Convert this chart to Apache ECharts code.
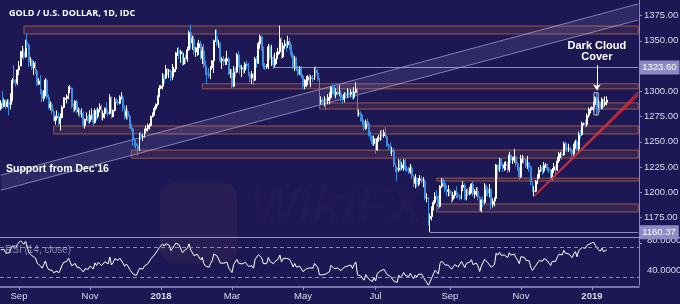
<!DOCTYPE html>
<html><head><meta charset="utf-8">
<script src="https://cdn.jsdelivr.net/npm/echarts@6/dist/echarts.min.js"></script>
<style>html,body{margin:0;padding:0;background:#1d1854;}#c{width:680px;height:304px;}</style>
</head><body><div id="c"></div>
<script>
// Daily candles, each row: [open, close, low, high]
const aug2017 = [[1283,1288,1281,1291],[1288,1285,1283,1300],[1285,1291,1284,1293],[1291,1285,1282,1292],[1285,1289,1284,1292],[1289,1287,1276,1292],[1287,1291,1282,1298],[1291,1311,1290,1313],[1311,1309,1307,1326],[1309,1308,1305,1312],[1308,1321,1306,1322]];
const sep2017 = [[1321,1325,1316,1330],[1325,1339,1325,1340],[1339,1339,1333,1345],[1339,1334,1331,1342],[1334,1349,1333,1351],[1349,1346,1343,1357],[1346,1329,1324,1347],[1329,1331,1325,1334],[1331,1323,1321,1332],[1323,1328,1316,1330],[1328,1320,1317,1330],[1320,1307,1305,1322],[1307,1310,1306,1313],[1310,1300,1297,1316],[1300,1293,1289,1302],[1293,1297,1290,1301],[1297,1311,1295,1313],[1311,1294,1292,1312],[1294,1284,1282,1297],[1284,1287,1281,1290],[1287,1280,1277,1289]];
const oct2017 = [[1280,1271,1270,1282],[1271,1274,1267,1276],[1274,1275,1271,1281],[1275,1268,1266,1279],[1268,1274,1261,1278],[1274,1284,1273,1286],[1284,1292,1283,1294],[1292,1293,1286,1294],[1293,1295,1288,1297],[1295,1303,1292,1305],[1303,1303,1298,1306],[1303,1285,1283,1304],[1285,1282,1279,1288],[1282,1290,1280,1291],[1290,1280,1278,1292],[1280,1281,1276,1284],[1281,1277,1274,1283],[1277,1278,1274,1283],[1278,1266,1264,1280],[1266,1272,1263,1273],[1272,1275,1271,1279],[1275,1270,1268,1277]];
const nov2017 = [[1270,1276,1268,1281],[1276,1277,1272,1283],[1277,1269,1265,1281],[1269,1281,1268,1283],[1281,1275,1271,1283],[1275,1282,1273,1284],[1282,1285,1279,1288],[1285,1274,1272,1287],[1274,1278,1271,1281],[1278,1283,1273,1284],[1283,1279,1277,1289],[1279,1278,1275,1282],[1278,1294,1277,1297],[1294,1275,1273,1295],[1275,1281,1274,1282],[1281,1292,1280,1294],[1292,1290,1288,1293],[1290,1288,1286,1292],[1288,1294,1287,1296],[1294,1294,1292,1299],[1294,1283,1280,1296],[1283,1275,1272,1286]];
const dec2017 = [[1275,1280,1272,1286],[1280,1275,1272,1282],[1275,1266,1263,1277],[1266,1263,1260,1268],[1263,1252,1246,1264],[1252,1248,1245,1254],[1248,1246,1243,1250],[1246,1242,1236,1248],[1242,1257,1241,1259],[1257,1255,1252,1260],[1255,1255,1251,1258],[1255,1261,1254,1263],[1261,1263,1258,1266],[1263,1265,1260,1268],[1265,1266,1262,1268],[1266,1275,1265,1276],[1275,1278,1274,1279],[1278,1283,1276,1285],[1283,1287,1281,1288],[1287,1295,1285,1296],[1295,1303,1294,1306]];
const jan2018 = [[1303,1305,1302,1306],[1305,1316,1302,1318],[1316,1313,1308,1317],[1313,1322,1312,1326],[1322,1320,1316,1323],[1320,1320,1313,1322],[1320,1313,1310,1322],[1313,1319,1311,1327],[1319,1322,1314,1324],[1322,1338,1319,1339],[1338,1340,1335,1343],[1340,1337,1332,1344],[1337,1339,1328,1341],[1339,1327,1325,1340],[1327,1333,1326,1338],[1333,1332,1327,1336],[1332,1341,1329,1344],[1341,1358,1340,1360],[1358,1348,1342,1366],[1348,1352,1341,1355],[1352,1339,1336,1355],[1339,1340,1334,1344],[1340,1343,1335,1348]];
const feb2018 = [[1343,1347,1336,1351],[1347,1333,1331,1350],[1333,1340,1327,1344],[1340,1325,1323,1347],[1325,1318,1316,1330],[1318,1317,1307,1321],[1317,1315,1313,1323],[1315,1323,1312,1325],[1323,1330,1321,1331],[1330,1350,1318,1351],[1350,1354,1349,1361],[1354,1347,1345,1361],[1347,1347,1343,1351],[1347,1330,1328,1349],[1330,1332,1322,1334],[1332,1330,1325,1335],[1330,1330,1326,1333],[1330,1332,1326,1340],[1332,1318,1316,1334],[1318,1318,1313,1322]];
const mar2018 = [[1318,1305,1303,1322],[1305,1322,1304,1325],[1322,1319,1314,1324],[1319,1336,1318,1338],[1336,1326,1324,1340],[1326,1322,1317,1329],[1322,1323,1314,1326],[1323,1321,1317,1325],[1321,1327,1318,1329],[1327,1325,1322,1330],[1325,1317,1315,1328],[1317,1313,1309,1319],[1313,1317,1307,1320],[1317,1311,1306,1318],[1311,1332,1310,1334],[1332,1328,1323,1335],[1328,1347,1327,1349],[1347,1354,1342,1356],[1354,1342,1340,1356],[1342,1325,1322,1344],[1325,1324,1321,1328],[1324,1325,1322,1327]];
const apr2018 = [[1325,1344,1322,1347],[1344,1333,1331,1346],[1333,1333,1325,1346],[1333,1326,1322,1336],[1326,1332,1324,1338],[1332,1336,1327,1339],[1336,1339,1333,1343],[1339,1352,1337,1365],[1352,1334,1332,1354],[1334,1345,1333,1348],[1345,1347,1342,1351],[1347,1346,1339,1350],[1346,1349,1343,1355],[1349,1344,1341,1353],[1344,1336,1333,1346],[1336,1324,1322,1339],[1324,1333,1320,1335],[1333,1322,1320,1334],[1322,1317,1315,1325],[1317,1323,1316,1325],[1323,1315,1313,1325]];
const may2018 = [[1315,1305,1302,1317],[1305,1306,1302,1312],[1306,1311,1304,1315],[1311,1314,1306,1316],[1314,1313,1307,1317],[1313,1313,1304,1316],[1313,1312,1309,1316],[1312,1321,1311,1324],[1321,1318,1314,1325],[1318,1312,1310,1322],[1312,1290,1287,1313],[1290,1291,1287,1295],[1291,1290,1286,1294],[1290,1292,1285,1295],[1292,1291,1282,1293],[1291,1291,1287,1297],[1291,1294,1287,1299],[1294,1304,1292,1305],[1304,1302,1297,1307],[1302,1297,1295,1305],[1297,1299,1293,1303],[1299,1298,1296,1305],[1298,1298,1295,1306]];
const jun2018 = [[1298,1293,1290,1301],[1293,1292,1288,1296],[1292,1297,1289,1299],[1297,1296,1293,1299],[1296,1298,1294,1303],[1298,1297,1293,1302],[1297,1299,1295,1302],[1299,1294,1292,1301],[1294,1299,1292,1304],[1299,1302,1298,1309],[1302,1278,1275,1304],[1278,1278,1275,1282],[1278,1275,1270,1280],[1275,1270,1266,1277],[1270,1263,1261,1272],[1263,1270,1262,1272],[1270,1268,1265,1273],[1268,1256,1255,1270],[1256,1253,1251,1260],[1253,1248,1246,1256],[1248,1253,1246,1256]];
const jul2018 = [[1253,1242,1238,1254],[1242,1253,1241,1255],[1253,1253,1250,1257],[1253,1257,1251,1261],[1257,1256,1252,1262],[1256,1259,1254,1262],[1259,1255,1254,1265],[1255,1246,1245,1257],[1246,1245,1242,1248],[1245,1241,1238,1249],[1241,1241,1236,1245],[1241,1227,1225,1244],[1227,1224,1220,1229],[1224,1222,1211,1226],[1222,1231,1220,1233],[1231,1224,1221,1233],[1224,1227,1222,1230],[1227,1231,1221,1233],[1231,1223,1221,1233],[1223,1222,1220,1226],[1222,1220,1218,1225],[1220,1224,1218,1228]];
const aug2018 = [[1224,1216,1213,1226],[1216,1209,1205,1217],[1209,1214,1204,1218],[1214,1208,1205,1215],[1208,1212,1206,1214],[1212,1213,1208,1217],[1213,1211,1209,1216],[1211,1211,1205,1215],[1211,1194,1192,1213],[1194,1194,1190,1199],[1194,1174,1167,1195],[1174,1176,1160.37,1179],[1176,1184,1172,1186],[1184,1190,1182,1192],[1190,1196,1188,1200],[1196,1195,1193,1202],[1195,1186,1183,1197],[1186,1206,1185,1207],[1206,1212,1204,1214],[1212,1209,1205,1214],[1209,1203,1200,1212],[1203,1201,1196,1207],[1201,1202,1196,1207]];
const sep2018 = [[1202,1199,1196,1203],[1199,1193,1189,1201],[1193,1197,1191,1200],[1197,1201,1194,1202],[1201,1197,1194,1206],[1197,1196,1194,1200],[1196,1194,1192,1198],[1194,1205,1193,1207],[1205,1207,1201,1211],[1207,1193,1192,1209],[1193,1201,1192,1203],[1201,1198,1196,1204],[1198,1203,1197,1205],[1203,1208,1199,1209],[1208,1198,1196,1211],[1198,1200,1194,1203],[1200,1201,1196,1205],[1201,1195,1192,1205],[1195,1182,1181,1196],[1182,1192,1180,1193]];
const oct2018 = [[1192,1190,1185,1196],[1190,1207,1188,1209],[1207,1203,1196,1207],[1203,1199,1196,1205],[1199,1203,1195,1208],[1203,1188,1183,1203],[1188,1191,1185,1194],[1191,1194,1186,1195],[1194,1227,1191,1228],[1227,1222,1214,1228],[1222,1233,1220,1234],[1233,1226,1223,1234],[1226,1224,1220,1229],[1224,1227,1221,1230],[1227,1227,1222,1231],[1227,1222,1219,1230],[1222,1237,1220,1240],[1237,1232,1229,1237],[1232,1232,1228,1235],[1232,1235,1229,1243],[1235,1228,1225,1236],[1228,1223,1221,1230],[1223,1215,1212,1225]];
const nov2018 = [[1215,1233,1214,1237],[1233,1233,1229,1237],[1233,1232,1228,1236],[1232,1226,1224,1234],[1226,1229,1223,1236],[1229,1225,1220,1230],[1225,1210,1207,1226],[1210,1201,1200,1211],[1201,1201,1196,1206],[1201,1211,1200,1212],[1211,1214,1208,1218],[1214,1222,1213,1225],[1222,1224,1220,1227],[1224,1221,1217,1226],[1221,1227,1219,1230],[1227,1227,1224,1229],[1227,1223,1221,1228],[1223,1222,1219,1225],[1222,1214,1211,1223],[1214,1222,1212,1224],[1222,1225,1219,1229],[1225,1222,1217,1227]];
const dec2018 = [[1222,1231,1221,1235],[1231,1238,1229,1240],[1238,1238,1234,1240],[1238,1237,1232,1242],[1237,1248,1236,1250],[1248,1244,1241,1250],[1244,1243,1240,1249],[1243,1243,1240,1248],[1243,1241,1239,1245],[1241,1238,1234,1243],[1238,1245,1236,1248],[1245,1250,1243,1252],[1250,1243,1241,1252],[1243,1258,1241,1260],[1258,1257,1253,1262],[1257,1268,1256,1270],[1268,1268,1266,1269],[1268,1267,1264,1272],[1267,1276,1265,1278],[1276,1280,1274,1284],[1280,1282,1278,1284]];
const jan2019 = [[1282,1284,1281,1285],[1284,1287,1280,1290],[1287,1294,1286,1295],[1294,1285,1277,1298],[1285,1289,1283,1292],[1289,1283,1279,1290],[1283,1292,1282,1294],[1292,1287,1284,1293],[1287,1289,1285,1295],[1289,1291.3,1286,1295]];
// closes before the first visible candle (for RSI warm-up)
const warmupCloses = [1219,1226,1224,1210,1213,1214,1218,1218,1228,1234,1241,1241,1245,1254,1255,1247,1250,1260,1269,1268,1269,1268,1267,1257,1258,1262,1277,1288,1289,1280,1269,1283];

const firstDay = '2017-08-17';
const slotCount = 387;
const tickDates = ['2017-09-01','2017-11-01','2018-01-01','2018-03-01','2018-05-01','2018-07-02','2018-09-03','2018-11-01','2019-01-01'];
const tickLabels = ['Sep','Nov','2018','Mar','May','Jul','Sep','Nov','2019'];
const priceTicks = {min:1150, max:1400, step:25};
const rsiTicks = {min:20, max:84, step:20, shown:[40,80]};
const rsiPeriod = 14;
const rsiLevels = [70, 30];
const lastClose = 1291.30;
const lastRsi = 65.9337;
const resistanceLevel = {from:165, value:1323.60};
const lowLevel = {from:260, value:1160.37};
// [start index, low, high]
const zones = [[14,1356.7,1364.6],[122,1302.4,1307.4],[193,1282.4,1288.4],[32,1257.7,1265.6],[79,1233.8,1241.8],[264,1211.1,1214.0],[264,1180.5,1188.4]];
// channel: [x0, x1, upper0, upper1, lower0, lower1]
const channel = [0, 386, 1217, 1386.5, 1202, 1370.5];
// rising trend line pair [x0, y0, x1, y1]
const trendLines = [[323,1196,386,1296.3],[325,1199.5,386,1299]];
const dccBox = [360, 361, 1276.5, 1298.5];
const dccArrow = [361, 1326, 1301];

const ohlc = [].concat(aug2017,sep2017,oct2017,nov2017,dec2017,jan2018,feb2018,mar2018,apr2018,may2018,jun2018,jul2018,aug2018,sep2018,oct2018,nov2018,dec2018,jan2019);

// category dates (weekdays)
const cats = [];
{
  const d = new Date(firstDay + 'T00:00:00Z');
  while (cats.length < slotCount) {
    const wd = d.getUTCDay();
    if (wd !== 0 && wd !== 6) cats.push(d.toISOString().slice(0,10));
    d.setUTCDate(d.getUTCDate() + 1);
  }
}
const tickMap = {};
tickDates.forEach((t,i)=>{ tickMap[t] = tickLabels[i]; });

// RSI(14, close), Wilder smoothing
const allCloses = warmupCloses.concat(ohlc.map(r=>r[1]));
const rsiAll = new Array(allCloses.length).fill(null);
{
  let g=0,l=0;
  for (let k=1;k<=rsiPeriod;k++){ const ch=allCloses[k]-allCloses[k-1]; if(ch>0) g+=ch; else l-=ch; }
  let ag=g/rsiPeriod, al=l/rsiPeriod;
  rsiAll[rsiPeriod] = 100 - 100/(1+ag/al);
  for (let k=rsiPeriod+1;k<allCloses.length;k++){
    const ch=allCloses[k]-allCloses[k-1];
    ag=(ag*(rsiPeriod-1)+Math.max(ch,0))/rsiPeriod;
    al=(al*(rsiPeriod-1)+Math.max(-ch,0))/rsiPeriod;
    rsiAll[k] = al===0 ? 100 : 100 - 100/(1+ag/al);
  }
}
const rsi = rsiAll.slice(warmupCloses.length);
const lastIdx = ohlc.length - 1;
const endIdx = slotCount - 1;

const LAV = '#8f8bc6';
const TXT = '#dcdaf0';
const FONT = 'Liberation Sans, Arial, sans-serif';

const chart = echarts.init(document.getElementById('c'));
const tagLabel = (txt, bg, fg) => ({show:true, position:'end', distance:1, formatter:txt, backgroundColor:bg, color:fg, padding:[2,3,2,3], fontSize:9.5, fontFamily:FONT});

chart.setOption({
  animation:false,
  backgroundColor:'#1d1854',
  title:{text:'GOLD / U.S. DOLLAR, 1D, IDC', left:4, top:4, textStyle:{color:'#ffffff', fontSize:9, fontWeight:'bold', fontFamily:'Open Sans, sans-serif'}},
  grid:[
    {left:0, width:639, top:-9.75, height:252.5, outerBoundsMode:'none', containLabel:false},
    {left:0, width:639, top:237, height:48, outerBoundsMode:'none', containLabel:false}
  ],
  xAxis:[
    {type:'category', gridIndex:0, data:cats, boundaryGap:true, show:false},
    {type:'category', gridIndex:1, data:cats, boundaryGap:true, offset:2,
     axisLine:{show:true, lineStyle:{color:'#9894cf', width:1.5}},
     axisTick:{show:true, alignWithLabel:true, length:3, interval:(i,v)=>!!tickMap[v], lineStyle:{color:'#9894cf'}},
     axisLabel:{interval:(i,v)=>!!tickMap[v], margin:4, color:TXT, fontSize:9.5, fontFamily:FONT,
       formatter:(v)=>{ const t=tickMap[v]||''; return /^\d{4}$/.test(t) ? '{b|'+t+'}' : t; },
       rich:{b:{fontWeight:'bold', color:TXT, fontSize:9.5, fontFamily:FONT}}}}
  ],
  yAxis:[
    {type:'value', gridIndex:0, position:'right', min:priceTicks.min, max:priceTicks.max, interval:priceTicks.step,
     splitLine:{show:false}, axisLine:{show:true, lineStyle:{color:LAV}}, axisTick:{show:true, length:3, lineStyle:{color:LAV}},
     axisLabel:{margin:5, color:TXT, fontSize:9.5, fontFamily:FONT, formatter:(v)=> (v<=priceTicks.min||v>=priceTicks.max)?'':v.toFixed(2)}},
    {type:'value', gridIndex:1, position:'right', min:rsiTicks.min, max:rsiTicks.max, interval:rsiTicks.step,
     splitLine:{show:false}, axisLine:{show:true, lineStyle:{color:LAV}}, axisTick:{show:false},
     axisLabel:{margin:8, color:TXT, fontSize:9.5, fontFamily:FONT, showMaxLabel:false, formatter:(v)=> rsiTicks.shown.indexOf(v)>=0 ? v.toFixed(4) : ''}}
  ],
  graphic:[
    {type:'rect', left:160, top:183, shape:{width:77, height:80, r:14}, style:{fill:'rgba(150,85,95,0.11)'}, z:-1, silent:true},
    {type:'text', left:250, top:182, style:{text:'WikiFX', fill:'rgba(150,85,95,0.045)', font:'italic bold 52px '+FONT}, z:-1, silent:true},
    {type:'text', left:6, top:164, style:{text:"Support from Dec'16", fill:'#ffffff', font:'bold 10.5px '+FONT}, z:10},
    {type:'text', left:5, top:245, style:{text:'RSI (14, close)', fill:'rgba(220,218,240,0.55)', font:'10px '+FONT}, z:10}
  ],
  series:[
    {
      type:'custom', name:'channel', xAxisIndex:0, yAxisIndex:0, z:1, silent:true,
      data:[channel],
      renderItem:(params, api)=>{
        const a = api.coord([api.value(0), api.value(2)]);
        const b = api.coord([api.value(1), api.value(3)]);
        const c = api.coord([api.value(1), api.value(5)]);
        const d = api.coord([api.value(0), api.value(4)]);
        return {type:'group', children:[
          {type:'polygon', shape:{points:[a,b,c,d]}, style:{fill:'rgba(200,192,255,0.11)'}},
          {type:'line', shape:{x1:a[0],y1:a[1],x2:b[0],y2:b[1]}, style:{stroke:'rgba(210,204,250,0.55)', lineWidth:1}},
          {type:'line', shape:{x1:d[0],y1:d[1],x2:c[0],y2:c[1]}, style:{stroke:'rgba(210,204,250,0.55)', lineWidth:1}}
        ]};
      },
      markArea:{silent:true, itemStyle:{color:'rgba(150,85,70,0.2)', borderColor:'rgba(180,108,88,0.75)', borderWidth:1},
        data: zones.map(z=>[{coord:[z[0], z[1]]},{coord:[endIdx, z[2]]}])}
    },
    {
      type:'candlestick', name:'XAUUSD', xAxisIndex:0, yAxisIndex:0, z:3, data:ohlc, barWidth:'85%',
      itemStyle:{color:'#ffffff', color0:'#3d8de3', borderColor:'#ffffff', borderColor0:'#3d8de3', borderWidth:1},
      markLine:{silent:true, symbol:'none', label:{show:false}, animation:false,
        data:[
          [{coord:[resistanceLevel.from, resistanceLevel.value], lineStyle:{color:'rgba(175,168,225,0.8)', width:1, type:'solid'}, label:tagLabel(resistanceLevel.value.toFixed(2), '#8f8ac6', '#ffffff')},{coord:[endIdx, resistanceLevel.value]}],
          [{coord:[lowLevel.from, lowLevel.value], lineStyle:{color:'rgba(175,168,225,0.8)', width:1, type:'solid'}, label:tagLabel(lowLevel.value.toFixed(2), '#8f8ac6', '#ffffff')},{coord:[endIdx, lowLevel.value]}],
          [{coord:[lastIdx, lastClose], lineStyle:{opacity:0}, label:tagLabel(lastClose.toFixed(2), '#3e8fe5', '#ffffff')},{coord:[endIdx, lastClose]}],
          ...trendLines.map(t=>[{coord:[t[0],t[1]], lineStyle:{color:'#dc2a32', width:1.2, type:'solid'}},{coord:[t[2],t[3]]}]),
          [{coord:[dccArrow[0], dccArrow[1]], symbol:'none', lineStyle:{color:'#ffffff', width:1, type:'solid'},
            label:{show:true, position:'start', distance:3, formatter:'Dark Cloud\nCover', color:'#ffffff', fontWeight:'bold', fontSize:11, lineHeight:11, fontFamily:FONT}},
           {coord:[dccArrow[0], dccArrow[2]], symbol:'arrow', symbolSize:[6,6]}]
        ]}
    },
    {
      type:'custom', name:'dccBox', xAxisIndex:0, yAxisIndex:0, z:4, silent:true, data:[dccBox],
      renderItem:(params, api)=>{
        const p1 = api.coord([api.value(0), api.value(3)]);
        const p2 = api.coord([api.value(1), api.value(2)]);
        const half = api.size([1,0])[0]*0.8;
        return {type:'rect', shape:{x:p1[0]-half, y:p1[1], width:p2[0]-p1[0]+2*half, height:p2[1]-p1[1]}, style:{fill:'none', stroke:'#c9c8da', lineWidth:1}};
      }
    },
    {
      type:'line', name:'RSI', xAxisIndex:1, yAxisIndex:1, data:rsi, symbol:'none', clip:false, z:3,
      lineStyle:{color:'#ffffff', width:1},
      markLine:{silent:true, symbol:'none', label:{show:false}, animation:false,
        data:[
          ...rsiLevels.map(v=>({yAxis:v, lineStyle:{color:'#8d89c0', type:[4,3], width:1}})),
          {yAxis:rsiTicks.max, lineStyle:{color:'#9894cf', type:'solid', width:1.2}},
          [{coord:[lastIdx, lastRsi], lineStyle:{opacity:0}, label:tagLabel(lastRsi.toFixed(4), '#ffffff', '#1d1854')},{coord:[endIdx, lastRsi]}]
        ]}
    }
  ]
});
</script>
</body></html>
